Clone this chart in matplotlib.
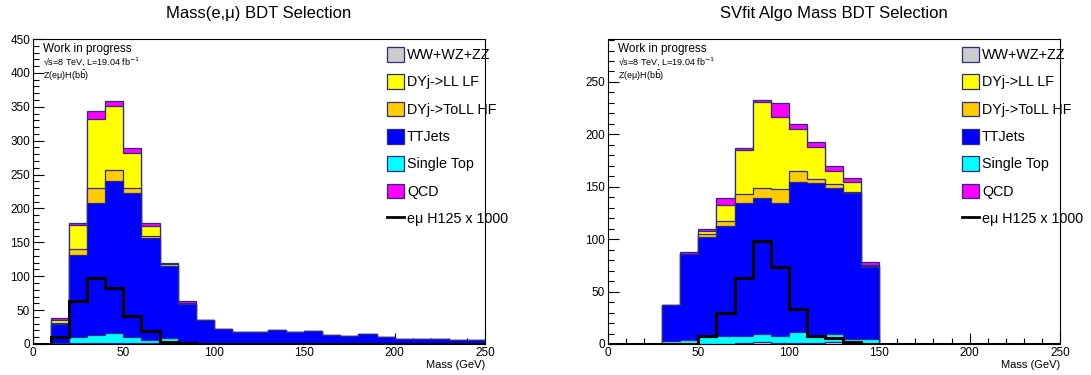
import numpy as np
import matplotlib
matplotlib.use("Agg")
import matplotlib.pyplot as plt
from matplotlib.patches import Patch
from matplotlib.lines import Line2D
from matplotlib.ticker import MultipleLocator

plt.rcParams['font.family'] = ['Liberation Sans', 'DejaVu Sans']

edges = np.arange(0, 260, 10)

# --- Mass(e,mu) : 25 bins of 10 GeV ---
vv_l = [0, 0, 1, 2, 2, 1, 1, 1, 0, 0, 0, 0, 0, 0, 0, 0, 0, 0, 0, 0, 0, 0, 0, 0, 0]
stop_l = [0, 2, 9, 12, 14, 10, 5, 8, 1, 1, 0, 0, 0, 0, 0, 0, 0, 0, 0, 0, 0, 0, 0, 0, 0]
tt_l = [0, 28, 122, 194, 225, 212, 151, 106, 58, 34, 22, 17, 18, 21, 18, 19, 13, 12, 15, 11, 8, 7, 7, 6, 6]
dyhf_l = [0, 1, 8, 22, 16, 7, 2, 0, 0, 0, 0, 0, 0, 0, 0, 0, 0, 0, 0, 0, 0, 0, 0, 0, 0]
dylf_l = [0, 5, 35, 102, 94, 52, 15, 3, 1, 0, 0, 0, 0, 0, 0, 0, 0, 0, 0, 0, 0, 0, 0, 0, 0]
qcd_l = [0, 2, 4, 12, 8, 7, 5, 2, 4, 1, 0, 0, 0, 0, 0, 0, 0, 0, 0, 0, 0, 0, 0, 0, 0]
sig_l = [0, 11, 63, 97, 82, 42, 19, 3, 1, 0, 0, 0, 0, 0, 0, 0, 0, 0, 0, 0, 0, 0, 0, 0, 0]

# --- SVfit mass ---
vv_r = [0, 0, 0, 0, 0, 0, 0, 1, 2, 1, 1, 1, 2, 0, 0, 0, 0, 0, 0, 0, 0, 0, 0, 0, 0]
stop_r = [0, 0, 0, 3, 4, 7, 8, 7, 8, 7, 10, 6, 8, 5, 5, 0, 0, 0, 0, 0, 0, 0, 0, 0, 0]
tt_r = [0, 0, 0, 34, 82, 95, 105, 127, 129, 127, 144, 147, 139, 139, 68, 0, 0, 0, 0, 0, 0, 0, 0, 0, 0]
dyhf_r = [0, 0, 0, 0, 0, 3, 4, 8, 10, 13, 10, 3, 4, 1, 1, 0, 0, 0, 0, 0, 0, 0, 0, 0, 0]
dylf_r = [0, 0, 0, 0, 0, 3, 16, 42, 82, 69, 40, 31, 12, 10, 1, 0, 0, 0, 0, 0, 0, 0, 0, 0, 0]
qcd_r = [0, 0, 0, 0, 2, 2, 6, 2, 2, 13, 5, 5, 5, 3, 3, 0, 0, 0, 0, 0, 0, 0, 0, 0, 0]
sig_r = [0, 0, 0, 0, 0, 8, 30, 63, 98, 73, 33, 8, 6, 2, 0, 0, 0, 0, 0, 0, 0, 0, 0, 0, 0]

labels = ["WW+WZ+ZZ", "DYj->LL LF", "DYj->ToLL HF", "TTJets", "Single Top", "QCD"]
colors = {"WW+WZ+ZZ": "#cccccc", "DYj->LL LF": "#ffff00", "DYj->ToLL HF": "#ffcc00",
          "TTJets": "#0000ff", "Single Top": "#00ffff", "QCD": "#ff00ff"}
edge_c = "#2a2a8a"

fig = plt.figure(figsize=(10.91, 3.75), dpi=100)
ax1 = fig.add_axes([33 / 1091, 1 - 344 / 375, 452 / 1091, 305 / 375])
ax2 = fig.add_axes([608 / 1091, 1 - 344 / 375, 452 / 1091, 305 / 375])


def draw(ax, comps, sig, ymax, title):
    # stack order bottom -> top
    order = ["WW+WZ+ZZ", "Single Top", "TTJets", "DYj->ToLL HF", "DYj->LL LF", "QCD"]
    cum = np.cumsum([np.array(comps[k], float) for k in order], axis=0)
    # ROOT style: paint the largest sum first, then smaller ones on top
    for i in range(len(order) - 1, -1, -1):
        ax.stairs(cum[i], edges, fill=True, facecolor=colors[order[i]],
                  edgecolor=edge_c, linewidth=0.9, zorder=2 + (len(order) - i))
    ax.stairs(sig, edges, baseline=None, color="black", linewidth=2.2, zorder=20)

    ax.set_xlim(0, 250)
    ax.set_ylim(0, ymax)
    ax.xaxis.set_major_locator(MultipleLocator(50))
    ax.xaxis.set_minor_locator(MultipleLocator(10))
    ax.yaxis.set_major_locator(MultipleLocator(50))
    ax.yaxis.set_minor_locator(MultipleLocator(10))
    ax.tick_params(which="both", direction="in", top=False, right=False, labelsize=8.5, pad=2)
    ax.tick_params(which="major", length=8, width=0.8)
    ax.tick_params(which="minor", length=4, width=0.8)
    for s in ax.spines.values():
        s.set_linewidth(0.8)
        s.set_zorder(30)
    ax.set_title(title, fontsize=12, pad=15)
    ax.set_xlabel("Mass (GeV)", fontsize=8, loc="right", labelpad=1)

    ax.text(0.022, 0.967, "Work in progress", transform=ax.transAxes, fontsize=8.5,
            va="center", ha="left", zorder=40)
    ax.text(0.022, 0.925, "√s=8 TeV, L=19.04 fb$^{-1}$", transform=ax.transAxes,
            fontsize=6.5, va="center", ha="left", zorder=40)
    ax.text(0.022, 0.881, r"Z(eμ)H(b$\bar{\rm b}$)", transform=ax.transAxes,
            fontsize=6.5, va="center", ha="left", zorder=40)


draw(ax1, {"WW+WZ+ZZ": vv_l, "Single Top": stop_l, "TTJets": tt_l, "DYj->ToLL HF": dyhf_l,
           "DYj->LL LF": dylf_l, "QCD": qcd_l}, sig_l, 450, "Mass(e,μ) BDT Selection")
draw(ax2, {"WW+WZ+ZZ": vv_r, "Single Top": stop_r, "TTJets": tt_r, "DYj->ToLL HF": dyhf_r,
           "DYj->LL LF": dylf_r, "QCD": qcd_r}, sig_r, 291, "SVfit Algo Mass BDT Selection")

handles = [Patch(facecolor=colors[k], edgecolor=edge_c, linewidth=0.9) for k in labels]
handles.append(Line2D([], [], color="black", linewidth=2))
leg_labels = labels + ["eμ H125 x 1000"]
for x0 in (387 / 1091, 962 / 1091):
    leg = fig.legend(handles, leg_labels, loc="upper left", bbox_to_anchor=(x0, 1 - 47 / 375),
                     frameon=False, fontsize=10.3, handlelength=1.2, handleheight=1.2,
                     handletextpad=0.2, labelspacing=0.85, borderaxespad=0, borderpad=0)
    leg.set_zorder(50)

fig.savefig("out.png", dpi=100)
